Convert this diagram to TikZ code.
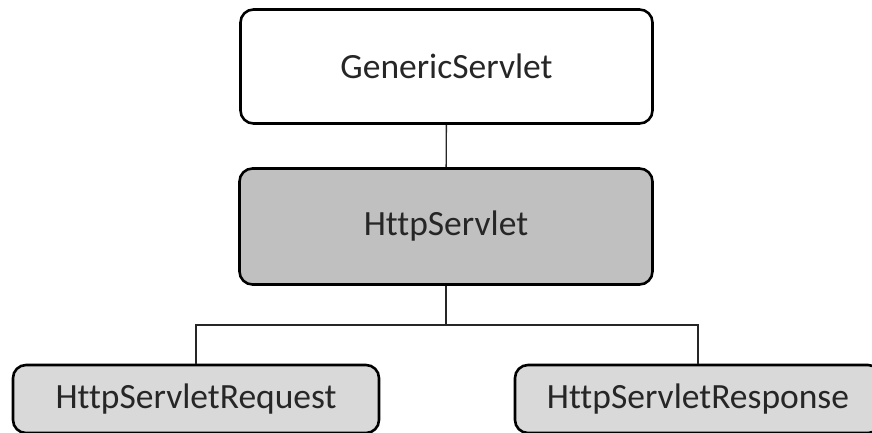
\documentclass[tikz,border=0pt]{standalone}
\usepackage{fontspec}
\setmainfont{Carlito}[Ligatures={NoCommon,NoContextual}]
\usepackage{xcolor}
\usetikzlibrary{positioning}
\definecolor{midgray}{HTML}{C0C0C0}
\definecolor{lightgray}{HTML}{D9D9D9}
\definecolor{textgray}{HTML}{262626}

\begin{document}
\begin{tikzpicture}[
    x=1pt, y=-1pt,
    classbox/.style={draw, line width=2.6pt, rounded corners=13pt, text=textgray,
        font=\fontsize{35.5}{40}\selectfont, inner sep=0pt},
    link/.style={line width=1.4pt, draw=black!85}
]
\useasboundingbox (0,0) rectangle (872,432);
\clip (0,0) rectangle (872,432);

% ----- Classes -----
\node[classbox, fill=white, minimum width=412pt, minimum height=114pt]
    (generic) at (446.5,66.5) {GenericServlet};
\node[classbox, fill=midgray, minimum width=413pt, minimum height=116pt]
    (http) at (446,226.5) {HttpServlet};
\node[classbox, fill=lightgray, minimum width=366pt, minimum height=68pt]
    (request) at (196,399) {HttpServletRequest};
\node[classbox, fill=lightgray, minimum width=366pt, minimum height=68pt]
    (response) at (698,399) {HttpServletResponse};

% ----- Connections -----
\coordinate (split) at (446,325);
\draw[link] (generic) -- (http);
\draw[link, line width=2.4pt] (http.south) -- (split);
\draw[link] (split) -| (request.north);
\draw[link] (split) -| (response.north);

\end{tikzpicture}
\end{document}
